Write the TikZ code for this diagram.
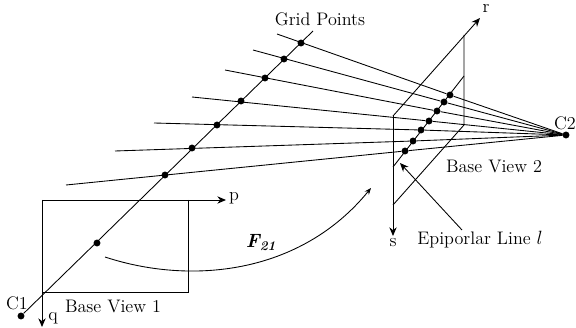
\documentclass[tikz,border=0pt]{standalone}
\usepackage{amsmath}
\usetikzlibrary{arrows.meta,positioning}
\tikzset{
	dot/.style={circle, fill=black, inner sep=0pt, minimum size=5.2pt},
	lbl/.style={inner sep=0pt, font=\fontsize{13.6}{15}\selectfont},
	ln/.style={line width=0.65pt},
	>={Stealth[length=6.5pt,width=5.5pt]}
}
\begin{document}
\begin{tikzpicture}[x=0.75pt, y=-0.75pt]
	\useasboundingbox (0,0) rectangle (576,328);
	% camera centres and grid points
	\node[dot] (c1) at (21,316) {};
	\node[dot] (c2) at (566,135) {};
	\node[dot] (g0) at (97,243) {};
	\node[dot] (g1) at (165,175) {};
	\node[dot] (g2) at (192,148) {};
	\node[dot] (g3) at (217,125) {};
	\node[dot] (g4) at (241,101) {};
	\node[dot] (g5) at (265,78) {};
	\node[dot] (g6) at (284,59) {};
	\node[dot] (g7) at (301,43) {};
	
	% points on the epipolar line
	\node[dot] (e1) at (405,151) {};
	\node[dot] (e2) at (413,141) {};
	\node[dot] (e3) at (421,130) {};
	\node[dot] (e4) at (429,121) {};
	\node[dot] (e5) at (437,111) {};
	\node[dot] (e6) at (444,102) {};
	\node[dot] (e7) at (450,95) {};
	
	% free ends of the rays
	\coordinate (r1) at (66,185);
	\coordinate (r2) at (115,151);
	\coordinate (r3) at (154,123);
	\coordinate (r4) at (192,97);
	\coordinate (r5) at (225,70);
	\coordinate (r6) at (253,50);
	\coordinate (r7) at (277,34);
	\coordinate (top) at (313,31);
	
	% view corners
	\coordinate (o1) at (42,200);
	\coordinate (a1) at (188,200);
	\coordinate (b1) at (188,292);
	\coordinate (d1) at (42,292);
	\coordinate (p) at (226,200);
	\coordinate (q) at (42,327);
	\coordinate (o2) at (393,116);
	\coordinate (a2) at (464,35);
	\coordinate (b2) at (464,125);
	\coordinate (d2) at (393,205);
	\coordinate (r) at (480,18);
	\coordinate (s) at (393,236);
	\coordinate (l1) at (393,167);
	\coordinate (l2) at (464,76);
	\coordinate (f1) at (105,257);
	\coordinate (f2) at (371,188);
	\coordinate (n1) at (462,230);
	\coordinate (n2) at (400,163);
	
	% labels
	\node[lbl] (lc1) at (17,303) {C1};
	\node[lbl] (lc2) at (565,123) {C2};
	\node[lbl] (lp) at (234,198) {p};
	\node[lbl] (lq) at (53,318) {q};
	\node[lbl] (lr) at (486,9) {r};
	\node[lbl] (ls) at (393,243) {s};
	\node[lbl] (lv1) at (113,306) {Base View 1};
	\node[lbl] (lv2) at (494,166) {Base View 2};
	\node[lbl] (lg) at (320,19) {Grid Points};
	\node[lbl] (ll) at (480,240) {Epiporlar Line {\Large$l$}};
	\node[lbl] (lf) at (261,243) {\Large\textbf{\textit{F\textsubscript{21}}}};
	
	% Draw edges
	\draw[ln] (c1) -- (top);
	\foreach \i/\j in {r1/e1, r2/e2, r3/e3, r4/e4, r5/e5, r6/e6, r7/e7}
		\draw[ln] (c2) -- (\j) -- (\i);
	
	\draw[ln,->] (o1) -- (p);
	\draw[ln,->] (o1) -- (q);
	\draw[ln] (a1) -- (b1) -- (d1);
	
	\draw[ln,->] (o2) -- (r);
	\draw[ln,->] (o2) -- (s);
	\draw[ln] (a2) -- (b2) -- (d2);
	\draw[ln] (l1) -- (l2);
	
	\draw[ln,-{Stealth[length=5pt,width=4pt]}] (f1) .. controls (190,285) and (300,275) .. (f2);
	\draw[ln,->] (n1) -- (n2);
\end{tikzpicture}
\end{document}
